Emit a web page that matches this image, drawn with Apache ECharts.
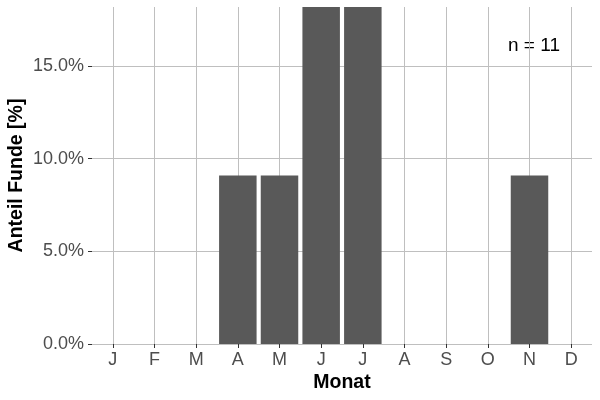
<!DOCTYPE html>
<html>
<head>
<meta charset="utf-8">
<script src="https://cdn.jsdelivr.net/npm/echarts@6/dist/echarts.min.js"></script>
<style>
  html, body { margin: 0; padding: 0; background: #fff; }
  #chart { width: 600px; height: 400px; }
</style>
</head>
<body>
<div id="chart"></div>
<script>
// Monate und Anteil der Funde (Prozent, n = 11)
const months = ['J', 'F', 'M', 'A', 'M', 'J', 'J', 'A', 'S', 'O', 'N', 'D'];
const shares = [0, 0, 0, 9.09, 9.09, 18.18, 18.18, 0, 0, 0, 9.09, 0];
const yTicks = [0, 5, 10, 15];
const nLabel = 'n = 11';

const chart = echarts.init(document.getElementById('chart'));
const font = 'Arial, "Liberation Sans", sans-serif';
const gridColor = '#bfbfbf';

chart.setOption({
  animation: false,
  backgroundColor: '#ffffff',
  grid: { left: 92, right: 8, top: 7, bottom: 56, containLabel: false, outerBoundsMode: 'none' },
  xAxis: {
    type: 'category',
    data: months,
    boundaryGap: true,
    name: 'Monat',
    nameLocation: 'middle',
    nameGap: 29,
    nameMoveOverlap: false,
    nameTextStyle: { color: '#000', fontSize: 19.5, fontWeight: 'bold', fontFamily: font },
    axisLine: { show: false },
    axisTick: { show: true, alignWithLabel: true, length: 4, lineStyle: { color: '#333' } },
    axisLabel: { color: '#4d4d4d', fontSize: 18, fontFamily: font, margin: 7, interval: 0 },
    splitLine: { show: false }
  },
  yAxis: {
    type: 'value',
    min: 0,
    max: 18.18,
    interval: 5,
    name: 'Anteil Funde [%]',
    nameLocation: 'middle',
    nameGap: 65,
    nameMoveOverlap: false,
    nameTextStyle: { color: '#000', fontSize: 19.5, fontWeight: 'bold', fontFamily: font },
    axisLine: { show: false },
    axisTick: { show: true, length: 4, customValues: yTicks, lineStyle: { color: '#333' } },
    axisLabel: {
      color: '#4d4d4d', fontSize: 18, fontFamily: font, margin: 8,
      customValues: yTicks,
      formatter: v => v.toFixed(1) + '%'
    },
    splitLine: { show: true, lineStyle: { color: gridColor, width: 1 } }
  },
  series: [
    {
      // nur für die senkrechten Gitterlinien hinter den Balken
      type: 'line',
      data: [],
      z: 1,
      silent: true,
      markLine: {
        silent: true,
        z: 1,
        symbol: 'none',
        label: { show: false },
        lineStyle: { color: gridColor, width: 1, type: 'solid' },
        data: months.map((m, i) => ({ xAxis: i }))
      }
    },
    {
      type: 'bar',
      data: shares,
      z: 3,
      barCategoryGap: '10%',
      itemStyle: { color: '#595959' }
    }
  ],
  graphic: [{
    type: 'text',
    left: 508,
    top: 36,
    style: { text: nLabel, fill: '#000', fontSize: 19, fontFamily: font }
  }]
});
</script>
</body>
</html>
